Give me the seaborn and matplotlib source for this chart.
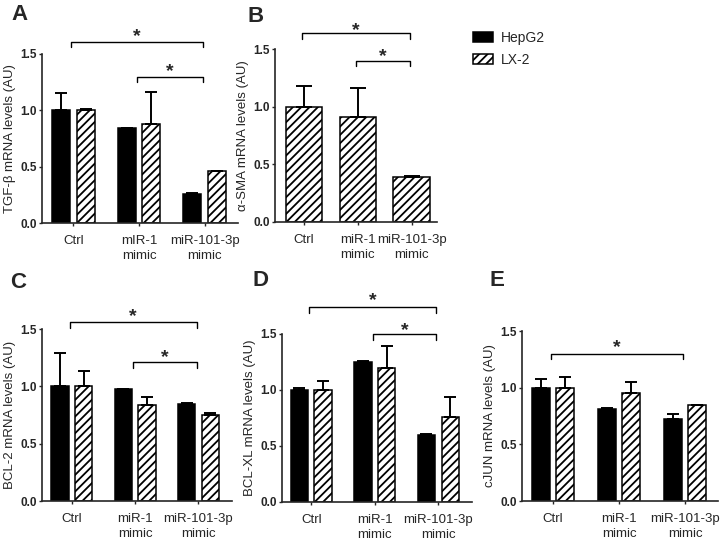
import numpy as np
import pandas as pd
import matplotlib
matplotlib.use('Agg')
import matplotlib.pyplot as plt
import seaborn as sns
from matplotlib.patches import Patch

# categories
conditions = ['Ctrl', 'miR-1\nmimic', 'miR-101-3p\nmimic']
conditions_a = ['Ctrl', 'mIR-1\nmimic', 'miR-101-3p\nmimic']
cells = ['HepG2', 'LX-2']

# A - TGF-beta
tgfb_hepg2 = [1.00, 0.84, 0.26]
tgfb_hepg2_err = [0.15, 0.0, 0.01]
tgfb_lx2 = [1.00, 0.88, 0.46]
tgfb_lx2_err = [0.01, 0.28, 0.0]

# B - alpha-SMA (LX-2 only)
asma_lx2 = [1.00, 0.91, 0.39]
asma_lx2_err = [0.18, 0.25, 0.01]

# C - BCL-2
bcl2_hepg2 = [1.00, 0.98, 0.85]
bcl2_hepg2_err = [0.29, 0.0, 0.005]
bcl2_lx2 = [1.00, 0.84, 0.75]
bcl2_lx2_err = [0.13, 0.07, 0.02]

# D - BCL-XL
bclxl_hepg2 = [1.00, 1.25, 0.60]
bclxl_hepg2_err = [0.015, 0.01, 0.01]
bclxl_lx2 = [1.00, 1.20, 0.76]
bclxl_lx2_err = [0.08, 0.19, 0.18]

# E - cJUN
cjun_hepg2 = [1.00, 0.81, 0.725]
cjun_hepg2_err = [0.08, 0.01, 0.04]
cjun_lx2 = [1.00, 0.95, 0.845]
cjun_lx2_err = [0.09, 0.10, 0.0]

sns.set_style('ticks')
plt.rcParams['font.family'] = ['Liberation Sans', 'DejaVu Sans']
plt.rcParams['hatch.linewidth'] = 1.3

W, H = 721, 541
fig = plt.figure(figsize=(W / 100, H / 100), dpi=100)


def add_ax(left, right, bottom, top):
    return fig.add_axes([left / W, 1 - bottom / H, (right - left) / W, (bottom - top) / H])


colors = {'HepG2': 'black', 'LX-2': 'white'}


def draw_panel(ax, labels, series, ylabel, brackets, xlim, width, gap, capsize):
    frames = []
    for cell, (vals, errs) in series.items():
        frames.append(pd.DataFrame({'cond': labels, 'cell': cell, 'val': vals, 'err': errs}))
    df = pd.concat(frames, ignore_index=True)
    order = list(series)
    sns.barplot(data=df, x='cond', y='val', hue='cell', hue_order=order,
                palette=colors, width=width, gap=gap, edgecolor='black',
                linewidth=1.1, errorbar=None, legend=False, ax=ax)
    for cell, cont in zip(order, ax.containers):
        errs = series[cell][1]
        xs, hs = [], []
        for p in cont.patches:
            if cell == 'LX-2':
                p.set_hatch('////')
            xs.append(p.get_x() + p.get_width() / 2)
            hs.append(p.get_height())
        ax.errorbar(xs, hs, yerr=[np.zeros(len(errs)), errs], fmt='none',
                    ecolor='black', elinewidth=1.4, capsize=capsize, capthick=1.4)
    ax.set_ylim(0, 1.5)
    ax.set_xlim(*xlim)
    ax.set_yticks([0, 0.5, 1.0, 1.5])
    ax.set_yticklabels(['0.0', '0.5', '1.0', '1.5'])
    plt.setp(ax.get_yticklabels(), fontweight='bold', fontsize=8.5,
             family=['Liberation Sans Narrow', 'Liberation Sans'])
    plt.setp(ax.get_xticklabels(), linespacing=1.4)
    ax.tick_params(axis='y', length=2.5, width=1, pad=1)
    ax.tick_params(axis='x', length=2.5, width=1, pad=6, labelsize=9.5)
    ax.set_xlabel('')
    ax.set_ylabel(ylabel, fontsize=9.5, labelpad=3)
    sns.despine(ax=ax)
    for s in ['left', 'bottom']:
        ax.spines[s].set_linewidth(1.2)
    for x1, x2, y, ys in brackets:
        a, b = x1 - 0.03, x2 - 0.03
        ax.plot([a, a, b, b], [y - 0.05, y, y, y - 0.05], color='black',
                lw=1.0, clip_on=False)
        ax.annotate('*', xy=((a + b) / 2, ys), xytext=(0, -8),
                    textcoords='offset points', ha='center', va='baseline',
                    fontsize=14, fontweight='bold', annotation_clip=False)


two_xlim = (-0.48, 2.51)

ax_a = add_ax(42, 238, 223, 54)
draw_panel(ax_a, conditions_a,
           {'HepG2': (tgfb_hepg2, tgfb_hepg2_err), 'LX-2': (tgfb_lx2, tgfb_lx2_err)},
           'TGF-β mRNA levels (AU)', [(0, 2, 1.61, 1.71), (1, 2, 1.30, 1.40)],
           two_xlim, 0.75, 0.27, 4)

ax_b = add_ax(275, 437, 222, 49)
draw_panel(ax_b, conditions, {'LX-2': (asma_lx2, asma_lx2_err)},
           'α-SMA mRNA levels (AU)', [(0, 2, 1.64, 1.715), (1, 2, 1.40, 1.49)],
           (-0.54, 2.47), 0.68, 0, 6)

ax_c = add_ax(42, 232, 501, 329)
draw_panel(ax_c, conditions,
           {'HepG2': (bcl2_hepg2, bcl2_hepg2_err), 'LX-2': (bcl2_lx2, bcl2_lx2_err)},
           'BCL-2 mRNA levels (AU)', [(0, 2, 1.56, 1.67), (1, 2, 1.21, 1.31)],
           (-0.47, 2.53), 0.75, 0.27, 4)

ax_d = add_ax(282, 472, 502, 334)
draw_panel(ax_d, conditions,
           {'HepG2': (bclxl_hepg2, bclxl_hepg2_err), 'LX-2': (bclxl_lx2, bclxl_lx2_err)},
           'BCL-XL mRNA levels (AU)', [(0, 2, 1.74, 1.86), (1, 2, 1.50, 1.59)],
           (-0.46, 2.53), 0.75, 0.27, 4)

ax_e = add_ax(522, 718, 501, 331)
draw_panel(ax_e, conditions,
           {'HepG2': (cjun_hepg2, cjun_hepg2_err), 'LX-2': (cjun_lx2, cjun_lx2_err)},
           'cJUN mRNA levels (AU)', [(0, 2, 1.30, 1.41)],
           (-0.47, 2.50), 0.75, 0.27, 4)

# panel letters
for letter, px, py in [('A', 19, 15), ('B', 256, 16), ('C', 18, 283),
                       ('D', 260, 281), ('E', 497, 281)]:
    fig.text(px / W, 1 - py / H, letter, fontsize=16, fontweight='bold',
             ha='center', va='center')

handles = [Patch(facecolor='black', edgecolor='black', linewidth=1.1),
           Patch(facecolor='white', edgecolor='black', hatch='////', linewidth=1.1)]
fig.legend(handles, cells, loc='upper left', bbox_to_anchor=(473 / W, 1 - 31 / H),
           frameon=False, fontsize=10, handlelength=1.45, handleheight=0.75,
           handletextpad=0.55, labelspacing=0.55, borderpad=0, borderaxespad=0)

fig.savefig('out.png', dpi=100)
